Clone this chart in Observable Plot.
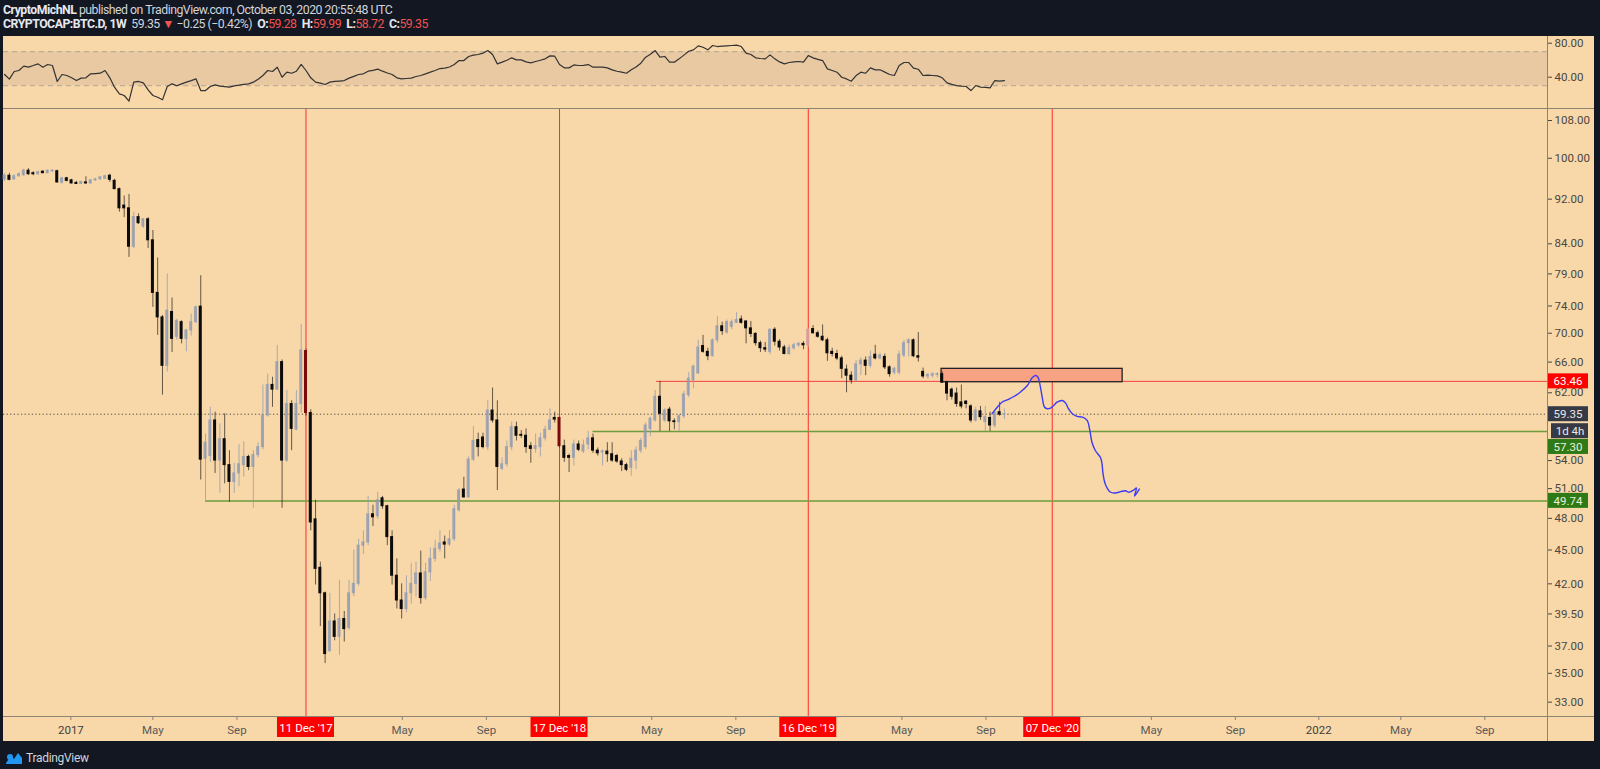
<!DOCTYPE html>
<html><head><meta charset="utf-8">
<script src="https://cdn.jsdelivr.net/npm/d3@7"></script>
<script src="https://cdn.jsdelivr.net/npm/@observablehq/plot@0.6"></script>
<style>
html,body{margin:0;padding:0;background:#131722;width:1600px;height:769px;overflow:hidden;font-family:Roboto,"Noto Sans",sans-serif;}
.hdr{position:absolute;left:3px;font-size:12.3px;line-height:14px;letter-spacing:-0.5px;color:#d1d4dc;white-space:nowrap;}
.hdr b{color:#e6e8ee;font-weight:700;}
.red{color:#ef5350;}
#panel{position:absolute;left:3px;top:36px;width:1591px;height:705px;background:#f8d7a8;overflow:visible;}
#rsi{position:absolute;left:0;top:0;}
#main{position:absolute;left:0;top:73px;}
#taxis{position:absolute;left:0;top:680px;}
.ln{position:absolute;background:#8e8474;}
#footer{position:absolute;left:5px;top:751px;font-size:12px;color:#d1d4dc;display:flex;align-items:center;gap:3px;letter-spacing:-0.3px;}
</style></head>
<body>
<div class="hdr" style="top:3px"><b>CryptoMichNL</b> published on TradingView.com, October 03, 2020 20:55:48 UTC</div>
<div class="hdr" style="top:17px"><b>CRYPTOCAP:BTC.D, 1W</b>&nbsp; 59.35 <span class="red">▼</span> −0.25 (−0.42%)&nbsp; <b>O:</b><span class="red">59.28</span>&nbsp; <b>H:</b><span class="red">59.99</span>&nbsp; <b>L:</b><span class="red">58.72</span>&nbsp; <b>C:</b><span class="red">59.35</span></div>
<div id="panel">
  <div id="rsi"></div>
  <div id="main"></div>
  <div id="taxis"></div>
  <div class="ln" style="left:0;top:72px;width:1591px;height:1.3px;"></div>
  <div class="ln" style="left:0;top:680px;width:1591px;height:1px;"></div>
  <div class="ln" style="left:1544px;top:0;width:1px;height:705px;"></div>
</div>
<div id="footer"><svg width="18" height="14" viewBox="0 0 18 14"><path d="M1 12 L6 5 L9 8 L13 2 L17 7 L17 13 L1 13 Z" fill="#2196f3"/><circle cx="5" cy="6" r="3" fill="#2196f3"/></svg><span>TradingView</span></div>
<script>
// ---------------- data ----------------
const startMonday = "2016-09-26"; // first weekly bar
const opens = [95.8,96.5,95.8,96.4,96.6,97.5,97.0,96.8,97.3,97.0,97.4,97.4,95.1,96.0,95.6,95.1,94.9,95.2,95.0,95.6,95.8,95.9,96.5,95.5,93.9,90.8,90.3,83.5,88.7,87.0,88.3,84.6,76.0,72.3,65.5,73.1,69.5,71.6,69.2,70.4,71.6,73.9,54.2,54.5,58.6,54.0,56.4,53.5,51.7,52.6,53.5,54.4,53.3,54.6,55.5,59.2,63.0,62.4,66.0,54.0,60.6,57.5,60.6,67.5,59.5,47.9,43.4,41.2,36.6,38.9,37.7,39.1,38.4,41.2,42.0,45.4,45.7,48.4,48.2,50.0,49.2,46.2,42.7,40.6,39.9,41.2,42.0,42.9,40.8,43.0,44.2,45.1,45.7,45.5,46.0,48.8,50.9,50.1,54.1,56.3,56.6,55.5,59.8,58.6,53.1,53.6,55.5,57.8,56.9,56.8,55.6,55.3,55.5,56.5,57.5,58.9,58.9,55.6,54.5,54.3,55.8,55.0,55.8,56.5,55.1,54.9,55.0,54.7,54.5,53.9,53.5,53.2,54.0,55.1,55.5,57.6,58.6,61.5,58.6,59.9,58.5,58.4,59.1,61.7,63.6,64.5,68.2,67.4,66.8,69.0,71.0,70.1,70.9,71.5,72.0,71.7,70.7,69.9,68.6,67.9,67.4,70.5,68.8,68.0,67.1,67.9,68.3,68.5,68.3,70.6,70.0,69.5,69.0,67.4,67.1,66.5,65.0,64.2,63.6,65.7,66.2,65.5,67.0,66.5,66.7,65.3,64.6,64.6,66.9,68.6,69.0,66.8,64.7,64.1,64.2,64.3,64.4,63.3,62.4,61.9,60.8,60.9,60.3,58.6,59.7,58.4,58.9,58.0,59.6,59.28];
const highs = [96.9,97.0,96.7,97.1,97.8,97.9,97.3,97.4,97.5,97.6,97.7,97.6,96.2,96.2,95.8,95.4,95.4,96.3,95.7,96.0,96.3,96.6,96.8,95.8,94.1,92.6,92.9,89.6,89.3,88.4,88.6,86.3,81.6,72.6,79.0,75.2,72.0,71.8,70.5,72.8,74.0,78.7,57.0,60.2,59.6,58.2,59.4,55.1,53.7,55.8,56.1,54.6,55.1,56.0,63.0,64.4,64.0,68.3,66.3,62.3,61.0,62.3,71.3,67.8,59.9,49.8,43.9,41.3,41.2,39.5,42.3,39.7,42.3,45.0,46.0,46.8,50.2,49.3,50.6,50.2,49.3,46.8,44.2,42.0,42.7,43.8,43.9,44.9,43.8,45.2,45.9,46.8,46.3,46.8,49.3,51.0,52.2,54.4,57.9,57.1,57.1,61.0,62.6,61.0,54.3,56.2,58.4,58.4,57.4,57.6,56.0,57.0,57.1,57.9,60.0,59.6,59.0,56.3,54.7,56.3,56.2,56.3,57.3,57.0,55.4,55.2,56.0,56.0,54.7,54.2,53.7,55.1,55.5,56.5,58.3,59.0,62.3,63.46,60.0,60.2,58.8,59.3,62.2,64.6,65.6,69.0,69.7,67.9,69.2,72.4,71.6,71.9,71.9,73.0,72.5,71.8,71.7,70.1,68.9,68.7,70.6,70.8,69.1,68.3,68.3,68.6,68.7,68.8,70.7,71.1,70.3,71.2,69.3,67.9,67.6,66.8,65.6,64.7,66.2,66.6,66.7,67.5,68.3,67.2,67.1,65.5,65.3,67.5,69.0,69.2,69.2,70.1,65.2,64.5,64.6,64.6,64.7,63.5,62.6,62.6,63.0,61.0,60.5,60.2,60.3,60.3,59.6,59.7,60.8,59.99];
const lows = [95.4,95.5,95.6,96.2,96.4,96.6,96.5,96.6,96.9,96.9,97.1,95.0,94.9,95.3,94.9,94.8,94.8,94.8,94.9,95.4,95.6,95.8,95.2,93.8,89.6,88.6,81.7,83.2,87.4,86.7,83.2,73.8,69.7,61.7,64.7,67.3,69.0,68.5,67.4,69.6,71.4,51.9,49.8,53.8,52.6,50.5,51.5,49.6,50.5,51.2,52.2,52.9,49.0,54.3,55.2,59.0,60.2,62.3,49.0,53.8,55.1,57.4,59.5,59.1,46.8,41.9,38.5,35.7,36.6,37.4,36.3,37.3,38.2,40.9,41.8,44.6,45.4,47.2,47.9,48.9,45.4,41.9,39.9,39.1,39.6,40.3,40.9,40.3,40.6,42.2,43.9,44.8,44.2,45.3,45.8,48.6,50.0,50.0,53.9,54.4,55.3,55.1,58.3,50.8,52.9,53.3,55.1,56.2,56.5,54.8,53.7,54.8,54.4,56.2,57.4,58.3,55.4,53.8,52.7,53.4,55.0,54.8,55.2,54.8,54.5,53.4,53.8,53.8,53.7,52.8,52.8,52.3,53.0,54.8,55.2,56.7,58.4,57.3,58.4,57.3,57.5,57.3,58.8,61.4,62.5,64.4,67.2,66.2,66.7,68.6,69.7,69.9,70.5,71.4,71.3,68.5,69.4,68.2,67.3,67.3,67.0,68.2,67.5,67.0,66.9,67.6,68.0,67.7,68.0,69.9,69.3,68.8,66.1,66.7,66.2,63.8,62.0,63.1,63.4,64.2,64.2,65.2,66.3,66.3,65.0,64.0,64.3,64.3,66.6,66.7,66.6,66.0,63.8,63.7,63.9,63.9,63.2,61.0,61.1,60.2,60.0,60.0,58.3,58.4,58.6,57.3,57.3,57.7,59.1,58.72];
const closes = [96.5,95.7,96.4,96.8,97.5,96.8,96.8,97.2,97.0,97.5,97.5,95.2,96.0,95.5,95.0,94.9,95.3,95.0,95.6,95.8,96.2,96.4,95.7,93.9,90.3,90.3,83.5,88.7,87.6,88.3,84.6,76.0,72.3,65.5,73.3,69.2,71.8,69.2,70.4,71.6,73.8,54.1,56.0,58.6,54.0,56.4,53.5,51.7,52.6,53.6,54.4,53.3,54.6,55.5,59.2,63.0,62.4,66.0,54.0,60.6,57.6,60.6,67.6,59.5,47.6,43.3,41.2,36.4,38.9,37.7,39.1,38.3,41.2,42.0,45.4,45.7,48.4,48.1,49.8,49.2,46.2,42.7,40.6,39.9,41.2,42.0,42.9,40.8,43.0,44.2,45.1,45.6,45.5,46.0,48.9,50.8,50.1,54.1,56.2,55.5,55.5,59.8,58.6,53.3,53.6,55.5,57.8,56.8,56.8,55.5,55.3,55.6,56.5,57.5,58.6,58.7,55.6,54.3,54.3,55.8,55.2,55.7,56.5,55.1,54.8,55.0,54.7,54.0,53.9,53.5,53.0,54.2,55.1,56.2,58.0,58.8,61.5,59.4,59.8,58.5,58.4,59.1,61.8,63.8,65.4,68.0,67.4,66.8,69.0,71.0,70.3,71.6,71.6,71.9,71.5,70.7,69.9,68.6,67.9,67.7,70.5,68.8,68.0,67.1,67.9,68.3,68.5,68.3,70.5,70.0,69.5,69.0,67.2,67.1,66.5,65.1,64.2,63.6,65.7,66.2,65.5,66.7,66.5,66.9,65.3,64.4,65.1,67.0,68.6,69.0,66.8,66.6,64.1,64.3,64.4,64.4,63.3,61.9,61.5,60.6,60.3,60.6,58.6,59.8,59.0,59.0,58.0,59.5,59.3,59.35];
const rsiValues = [43.2,37.7,46.7,47.9,53.0,51.8,53.8,55.7,51.8,55.0,53.8,35.0,43.2,42.0,39.3,36.1,38.9,39.3,44.0,44.3,44.7,47.9,39.3,28.0,20.4,18.5,11.8,34.2,35.0,33.4,25.1,18.5,16.5,13.4,29.1,32.2,29.9,32.2,34.2,36.0,38.1,24.3,24.3,29.1,31.0,29.5,29.0,28.3,29.9,30.6,31.5,32.2,34.2,37.7,42.0,47.9,46.7,51.8,40.0,45.9,44.7,47.1,55.0,47.9,39.3,34.2,33.0,31.4,34.2,35.0,35.5,36.1,38.9,41.0,43.2,44.0,47.1,48.0,49.5,47.1,45.0,43.2,39.3,38.1,38.5,38.9,40.8,42.0,44.0,46.0,47.9,50.2,50.6,52.0,55.0,59.6,59.6,64.4,65.9,66.7,68.3,71.4,66.7,55.7,57.7,60.0,62.8,60.4,60.4,58.0,56.9,58.5,60.0,61.6,65.1,64.7,54.9,51.0,51.0,54.5,53.8,54.0,54.9,51.8,51.8,51.8,51.0,48.7,47.0,45.9,44.7,48.7,52.0,56.5,63.6,67.0,71.4,63.6,64.4,57.7,57.7,61.6,66.0,70.6,72.2,76.9,75.3,72.2,77.3,76.1,76.5,76.9,77.3,77.7,76.1,68.3,66.7,62.8,62.0,61.6,66.3,61.6,58.0,55.7,57.3,58.0,58.5,57.7,65.5,62.8,61.0,59.6,49.8,47.9,45.9,40.0,38.0,35.3,42.0,45.9,44.7,51.0,48.7,48.7,46.0,43.2,42.0,53.8,57.3,57.3,50.6,49.4,42.0,42.4,42.0,41.6,39.3,33.4,31.5,30.2,29.5,29.1,24.3,30.2,28.3,28.0,27.5,36.1,35.3,36.0];
const priceTicks = [33,35,37,39.5,42,45,48,51,54,62,66,70,74,79,84,92,100,108];
const rsiTicks = [40,80];
const rsiBand = [30,70];
const timeTickDates = ["2017-01-01","2017-05-01","2017-09-01","2018-05-01","2018-09-01","2019-05-01","2019-09-01","2020-05-01","2020-09-01","2021-05-01","2021-09-01","2022-01-01","2022-05-01","2022-09-01"];
const timeTickLabels = ["2017","May","Sep","May","Sep","May","Sep","May","Sep","May","Sep","2022","May","Sep"];
const markDates = ["2017-12-11","2018-12-17","2019-12-16","2020-12-07"];
const markLabels = ["11 Dec '17","17 Dec '18","16 Dec '19","07 Dec '20"];
const levelValues = [63.46,57.30,49.74];
const levelStartDates = ["2019-05-08","2019-02-04","2017-07-17"];
const zoneDates = ["2020-06-28","2021-03-20"];
const zoneValues = [63.35,65.1];
const projWeeks = [206.4,207.5,208.5,209.6,211.0,212.3,213.8,214.8,215.5,216.0,216.4,216.9,217.4,218.0,218.6,219.3,220.0,221.1,221.8,222.4,223.2,224.2,225.3,226.3,226.8,227.3,228.0,229.1,229.4,229.6,230.1,231.2,232.2,233.3,234.3,235.0,236.0,236.6,236.2,237.2];
const projValues = [59.40,60.20,60.82,61.12,61.53,62.07,62.93,63.92,64.22,64.00,63.14,61.45,60.20,60.01,60.08,60.41,60.82,61.03,60.70,60.01,59.40,59.08,59.00,58.60,57.61,56.06,55.12,54.31,53.67,52.63,51.46,50.62,50.55,50.68,50.78,50.62,50.85,51.06,50.24,50.95];
const countdownText = "1d 4h";
const xDomain = [new Date("2016-09-24T09:07:00Z"), new Date("2022-12-01T16:48:00Z")];

// ---------------- build ----------------
const DAY = 864e5;
const t0 = new Date(startMonday + "T00:00:00Z").getTime();
const weekDate = w => new Date(t0 + w * 7 * DAY);
const markSet = new Set(markDates);
const candles = opens.map((o, i) => {
  const date = weekDate(i);
  return {date, open: o, high: highs[i], low: lows[i], close: closes[i],
    up: closes[i] >= o, mark: markSet.has(date.toISOString().slice(0, 10))};
});
const rsiData = rsiValues.map((v, i) => ({date: weekDate(i), value: v}));
const proj = projWeeks.map((w, i) => ({date: weekDate(w), value: projValues[i]}));
const levels = levelValues.map((v, i) => ({value: v, start: new Date(levelStartDates[i])}));
const lastClose = closes[closes.length - 1];
const xEnd = xDomain[1];

const W = 1591, MR = 47;
const FONT = "Roboto, 'Noto Sans', sans-serif";
const common = {width: W, marginLeft: 0, marginRight: MR, marginTop: 0, marginBottom: 0,
  color: {type: "identity"}};

const bodyColor = d => d.mark ? (d.up ? "#d99a9a" : "#7d0a0a") : (d.up ? "#8f9bb3" : "#0b0b0b");
const wickColor = d => d.mark ? (d.up ? "#d99a9a" : "#7d0a0a") : (d.up ? "#8f9bb3" : "#000000");

function axisLabel(value, text, fill, textFill, dy, left) {
  const h = 7.5;
  return [
    Plot.rect([value], {x1: () => xEnd, x2: () => xEnd, y1: d => d, y2: d => d,
      insetLeft: left, insetRight: -41, insetTop: -h + dy, insetBottom: -h - dy, fill}),
    Plot.text([value], {x: () => xEnd, y: d => d, text: () => text, dx: 20.5 + left / 2, dy,
      fill: textFill, fontSize: 11.5, textAnchor: "middle"})
  ];
}

const mainPlot = Plot.plot({
  ...common, height: 607,
  style: {background: "transparent", fontFamily: FONT, fontSize: "11.5px", color: "#4a4740", overflow: "visible"},
  x: {type: "utc", domain: xDomain, axis: null},
  y: {type: "log", domain: [32.05, 110.45], axis: "right", ticks: priceTicks,
      tickFormat: d => d.toFixed(2), tickSize: 4, tickPadding: 3, label: null},
  marks: [
    Plot.ruleX(markDates, {x: d => new Date(d), stroke: "#ff2b2b", strokeWidth: 1}),
    Plot.ruleY(levels, {y: "value", x1: "start", x2: () => xEnd,
      stroke: (d, i) => i === 0 ? "#f24141" : "#6e9c3e", strokeWidth: (d, i) => i === 0 ? 1 : 1.5}),
    Plot.rect([0], {x1: () => new Date(zoneDates[0]), x2: () => new Date(zoneDates[1]),
      y1: () => zoneValues[0], y2: () => zoneValues[1], fill: "#f7a283", stroke: "#222", strokeWidth: 1.3}),
    Plot.ruleY([lastClose], {stroke: "#4b4b4b", strokeDasharray: "1.2,2.4", strokeWidth: 1}),
    Plot.ruleX(candles, {x: "date", y1: "low", y2: "high", stroke: wickColor,
      strokeOpacity: d => d.up ? 0.75 : 0.6, strokeWidth: 1}),
    Plot.rect(candles, {x1: "date", x2: "date", y1: "open", y2: "close", fill: bodyColor,
      fillOpacity: d => d.up && !d.mark ? 0.8 : 1,
      insetLeft: -1.5, insetRight: -1.5, insetTop: -0.5, insetBottom: -0.5}),
    Plot.line(proj, {x: "date", y: "value", stroke: "#3b3bf5", strokeWidth: 1.4, curve: "catmull-rom"}),
    ...axisLabel(levelValues[0], levelValues[0].toFixed(2), "#ff0000", "#ffffff", 0, 0),
    ...axisLabel(lastClose, lastClose.toFixed(2), "#363a45", "#e8e8e8", 0, 0),
    ...axisLabel(lastClose, countdownText, "#363a45", "#e8e8e8", 17, 4),
    ...axisLabel(levelValues[1], levelValues[1].toFixed(2), "#2e7a17", "#e6f3dc", 15.5, 0),
    ...axisLabel(levelValues[2], levelValues[2].toFixed(2), "#2e7a17", "#e6f3dc", 0, 0)
  ]
});
document.getElementById("main").appendChild(mainPlot);

const rsiPlot = Plot.plot({
  ...common, height: 72,
  style: {background: "transparent", fontFamily: FONT, fontSize: "11.5px", color: "#4a4740", overflow: "visible"},
  x: {type: "utc", domain: xDomain, axis: null},
  y: {domain: [3.2, 87.9], axis: "right", ticks: rsiTicks, tickFormat: d => d.toFixed(2),
      tickSize: 4, tickPadding: 3, label: null},
  marks: [
    Plot.rect([0], {x1: () => xDomain[0], x2: () => xEnd, y1: () => rsiBand[0], y2: () => rsiBand[1], fill: "#e8c9a2"}),
    Plot.ruleY(rsiBand, {stroke: "#b3a593", strokeDasharray: "5,4", strokeWidth: 1}),
    Plot.line(rsiData, {x: "date", y: "value", stroke: "#333333", strokeWidth: 1.2})
  ]
});
document.getElementById("rsi").appendChild(rsiPlot);

const tPlot = Plot.plot({
  ...common, height: 25,
  style: {background: "transparent", fontFamily: FONT, fontSize: "11.5px", color: "#555", overflow: "visible"},
  x: {type: "utc", domain: xDomain, axis: null},
  marks: [
    Plot.ruleX(timeTickDates, {x: d => new Date(d), insetBottom: 21, stroke: "#8a8378"}),
    Plot.text(timeTickDates, {x: d => new Date(d), text: (d, i) => timeTickLabels[i], dy: 1,
      fill: (d, i) => timeTickLabels[i].length === 4 ? "#3e3e3e" : "#5a5a5a",
      fontWeight: (d, i) => timeTickLabels[i].length === 4 ? "bold" : "normal"}),
    Plot.rect(markDates, {x1: d => new Date(d), x2: d => new Date(d), insetLeft: -28.5, insetRight: -28.5,
      insetBottom: 4, fill: "#ff0000"}),
    Plot.text(markDates, {x: d => new Date(d), text: (d, i) => markLabels[i], dy: -1, fill: "#ffffff"})
  ]
});
document.getElementById("taxis").appendChild(tPlot);
</script>
</body></html>
